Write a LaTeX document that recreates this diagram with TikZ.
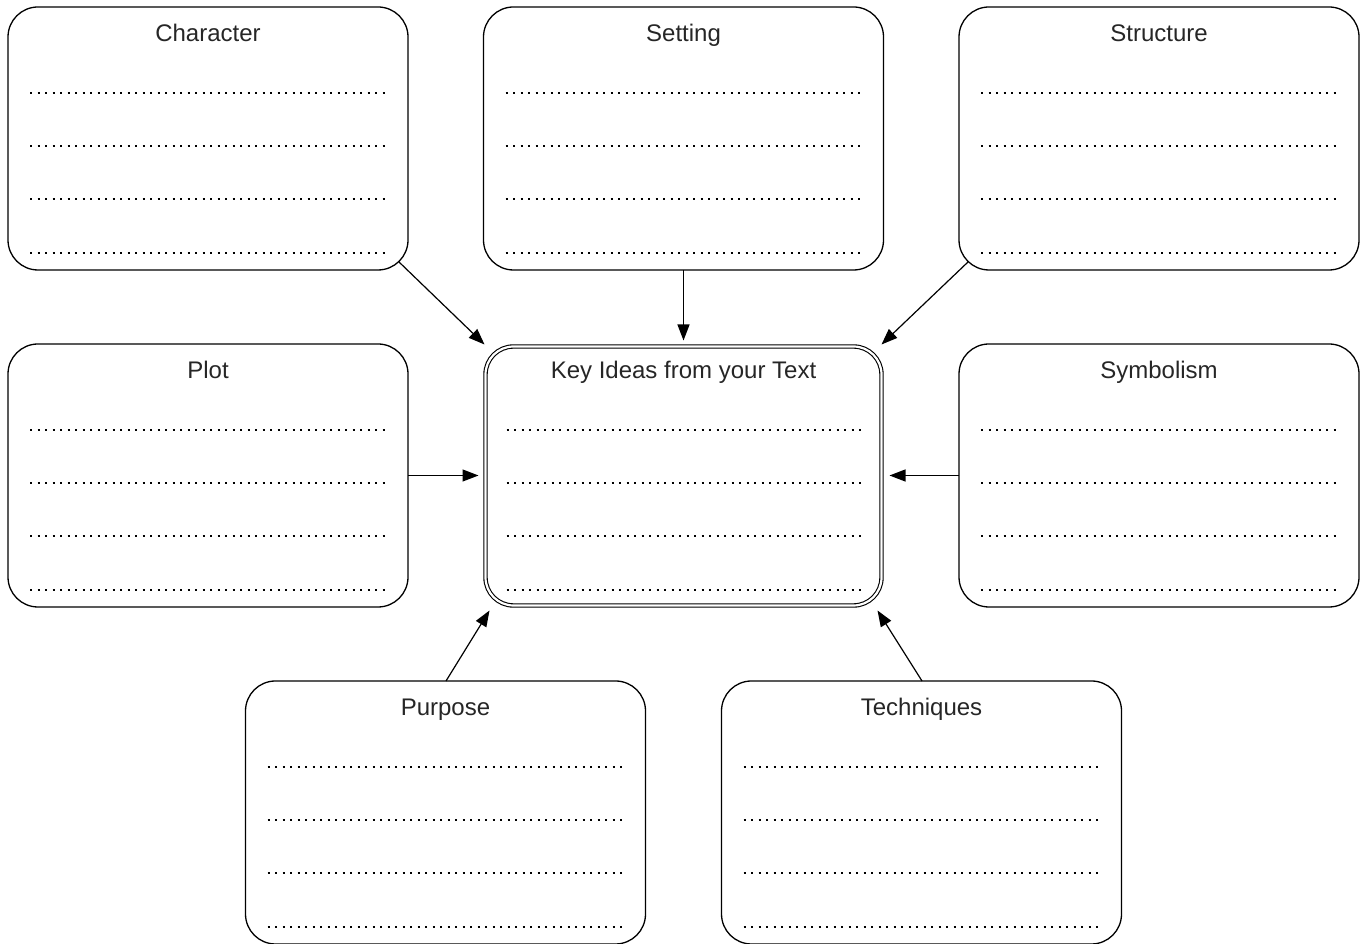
\documentclass[tikz,border=0pt]{standalone}
\usepackage{fontspec}
\setmainfont{Liberation Sans}
\usetikzlibrary{arrows.meta}
\tikzset{
 box/.style={draw, rounded corners=30pt, minimum width=400pt, minimum height=263pt, line width=1.3pt, inner sep=0pt, outer sep=0pt},
 keybox/.style={draw, double, double distance=2.2pt, line width=1.1pt, rounded corners=28pt, minimum width=396pt, minimum height=259pt, inner sep=0pt, outer sep=0pt},
 title/.style={font=\fontsize{24}{28}\selectfont, text=black!85, inner sep=0pt, anchor=base},
 dotline/.style={line width=2pt, dash pattern=on 2pt off 5.5pt},
 conn/.style={line width=1.2pt, -{Triangle[length=16pt,width=12pt]}},
}
\begin{document}
\begin{tikzpicture}[x=1pt,y=1pt]
\useasboundingbox (0,0) rectangle (1367,944);
\node[box] (char) at (208,805.5) {};
\node[box] (sett) at (683.5,805.5) {};
\node[box] (stru) at (1159,805.5) {};
\node[box] (plot) at (208,468.5) {};
\node[box] (symb) at (1159,468.5) {};
\node[box] (purp) at (445.5,131.5) {};
\node[box] (tech) at (921.5,131.5) {};
\node[keybox] (key) at (683.5,468) {};
\foreach \n/\t in {char/Character, sett/Setting, stru/Structure, plot/Plot, symb/Symbolism, purp/Purpose, tech/Techniques}{
  \node[title] (\n-t) at ([yshift=-34.5pt]\n.north) {\t};
  \foreach \d in {86,139,192,246}
    \draw[dotline] ([xshift=22pt,yshift=-\d pt]\n.north west) -- ([xshift=-20pt,yshift=-\d pt]\n.north east);
}
\node[title] (key-t) at ([yshift=-32pt]key.north) {Key Ideas from your Text};
\foreach \d in {83.5,136.5,189.5,243.5}
  \draw[dotline] ([xshift=21pt,yshift=-\d pt]key.north west) -- ([xshift=-19pt,yshift=-\d pt]key.north east);
\draw[conn] ([xshift=-9pt,yshift=8pt]char.south east) -- ([xshift=-1pt,yshift=2pt]key.north west);
\draw[conn] (sett.south) -- ([yshift=6pt]sett.south |- key.north);
\draw[conn] ([xshift=9pt,yshift=8pt]stru.south west) -- ([xshift=0pt,yshift=2pt]key.north east);
\draw[conn] (plot.east) -- ([xshift=-7pt]key.west |- plot.east);
\draw[conn] (symb.west) -- ([xshift=8pt]key.east |- symb.west);
\draw[conn] ([xshift=0.5pt]purp.north) -- ([xshift=4pt,yshift=-5pt]key.south west);
\draw[conn] ([xshift=0.5pt]tech.north) -- ([xshift=-4pt,yshift=-5pt]key.south east);
\end{tikzpicture}
\end{document}
